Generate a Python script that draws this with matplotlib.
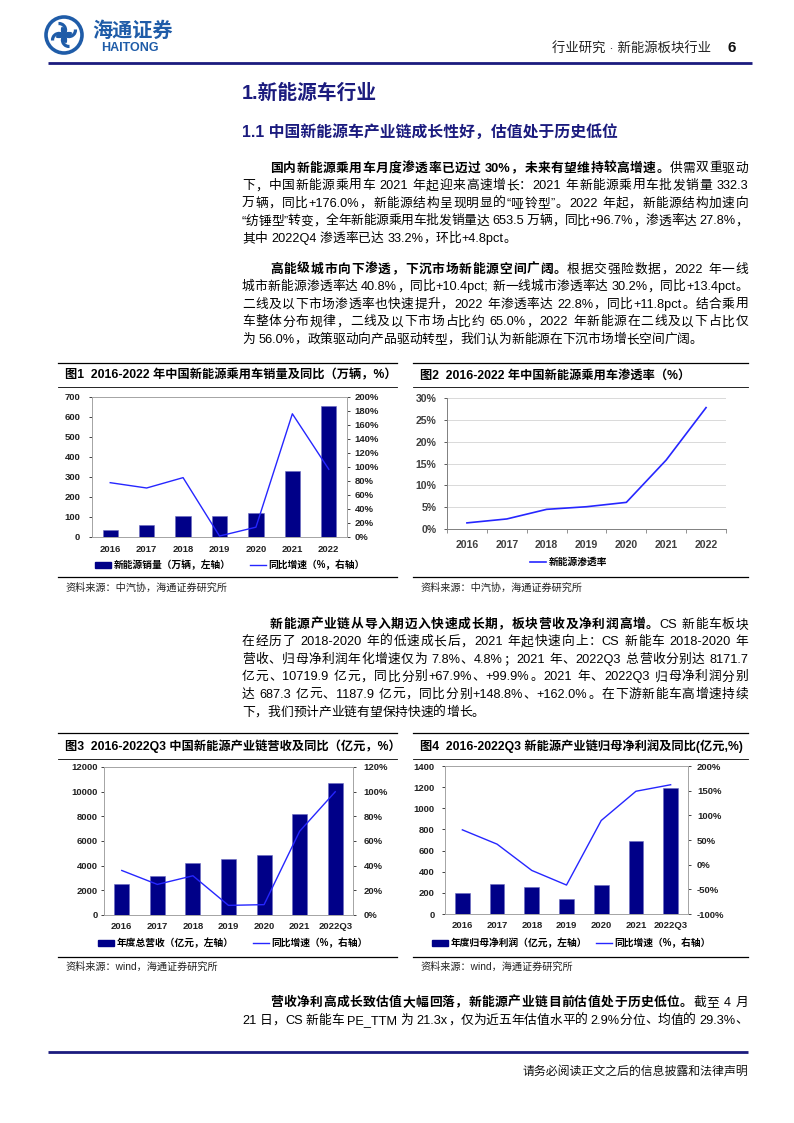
import re
import numpy as np
import matplotlib
matplotlib.use('Agg')
import matplotlib.pyplot as plt
from matplotlib.patches import Rectangle, Circle, Arc
from matplotlib.lines import Line2D

# ---------------- data ----------------
years = ['2016', '2017', '2018', '2019', '2020', '2021', '2022']
years_q3 = ['2016', '2017', '2018', '2019', '2020', '2021', '2022Q3']
nev_sales = [33, 58, 106, 106, 122, 332.3, 653.5]            # 万辆
nev_sales_yoy = [77.6, 70.0, 84.8, 1.4, 14.0, 176.0, 96.7]   # %
nev_penetration = [1.4, 2.3, 4.5, 5.1, 6.1, 15.8, 27.8]      # %
chain_revenue = [2535, 3155, 4180, 4503, 4854, 8171.7, 10719.9]  # 亿元
chain_revenue_yoy = [36.1, 24.8, 31.8, 7.8, 8.4, 67.9, 99.9]     # %
chain_profit = [198, 283, 252, 145, 277, 687.3, 1187.9]          # 亿元
chain_profit_yoy = [70.6, 41.6, -11.7, -41.3, 89.5, 148.8, 162.0]  # %

sales_ticks = list(range(0, 701, 100))
sales_yoy_ticks = list(range(0, 201, 20))
pen_ticks = list(range(0, 31, 5))
rev_ticks = list(range(0, 12001, 2000))
rev_yoy_ticks = list(range(0, 121, 20))
profit_ticks = list(range(0, 1401, 200))
profit_yoy_ticks = list(range(-100, 201, 50))

# ---------------- setup ----------------
W, H = 794, 1123
plt.rcParams['font.family'] = ['Liberation Sans', 'Noto Sans CJK SC', 'DejaVu Sans']
FAM = ['Liberation Sans', 'Noto Sans CJK SC', 'DejaVu Sans']
fig = plt.figure(figsize=(W / 100, H / 100), dpi=100)
renderer = fig.canvas.get_renderer()

NAVY = '#1b1b7e'
BAR = '#000088'
LINE = '#2626ff'
LOGO = '#1f5ca8'


def fx(x):
    return x / W


def fy(y):
    return 1 - y / H


# background axes in pixel coordinates
bg = fig.add_axes([0, 0, 1, 1])
bg.set_xlim(0, W)
bg.set_ylim(H, 0)
bg.axis('off')

# ---------------- header ----------------
cx, cy = 64, 35
bg.add_patch(Circle((cx, cy), 18, fill=False, ec=LOGO, lw=2.6))
for a in [45, 135, 225, 315]:
    r = np.deg2rad(a)
    bg.add_patch(Arc((cx + 7 * np.cos(r), cy + 7 * np.sin(r)), 13, 13,
                     theta1=a + 40, theta2=a + 250, ec=LOGO, lw=2.3))
bg.add_patch(Circle((cx, cy), 2.0, color=LOGO))
fig.text(fx(92), fy(31), '海通证券', fontsize=14.5, fontweight='bold', color=LOGO,
         family=FAM, va='center', ha='left')
fig.text(fx(101), fy(48), 'HAITONG', fontsize=9, fontweight='bold', color=LOGO,
         family=FAM, va='center', ha='left')
fig.text(fx(711), fy(49), '行业研究 · 新能源板块行业', fontsize=9.6, color='#222222',
         family=FAM, va='center', ha='right')
fig.text(fx(728), fy(48), '6', fontsize=11, fontweight='bold', color='#111111',
         family=FAM, va='center', ha='left')
bg.plot([48, 752], [63, 63], color=NAVY, lw=2.0, solid_capstyle='butt')

# headings
fig.text(fx(242), fy(93), '1.新能源车行业', fontsize=14.2, fontweight='bold', color=NAVY,
         family=FAM, va='center', ha='left')
fig.text(fx(242), fy(132), '1.1 中国新能源车产业链成长性好，估值处于历史低位', fontsize=11.4,
         fontweight='bold', color=NAVY, family=FAM, va='center', ha='left')

# ---------------- justified body text ----------------
BODY = 9.2
TOK = re.compile(r'[\x21-\x7e]+| |.')
_wc = {}


def tw(s, bold, size):
    key = (s, bold, size)
    if key not in _wc:
        t = fig.text(0, 0, s, fontsize=size, fontweight='bold' if bold else 'normal', family=FAM)
        _wc[key] = t.get_window_extent(renderer).width
        t.remove()
    return _wc[key]


SPACE_W = tw('a a', False, BODY) - tw('aa', False, BODY)


def draw_line(segs, x0, x1, y, justify=True, size=BODY):
    toks = []
    for text, bold in segs:
        for m in TOK.finditer(text):
            toks.append((m.group(0), bold))
    widths = [SPACE_W if t == ' ' else tw(t, b, size) for t, b in toks]
    gaps = len(toks) - 1
    extra = (x1 - x0 - sum(widths)) / gaps if (justify and gaps > 0) else 0.0
    x = x0
    for (t, b), w in zip(toks, widths):
        if t != ' ':
            fig.text(fx(x), fy(y + 4.6), t, fontsize=size,
                     fontweight='bold' if b else 'normal', family=FAM,
                     color='#000000', va='baseline', ha='left')
        x += w + extra


def paragraph(lines, y0, step=17.6, x0=242, x1=748, indent=28):
    for i, segs in enumerate(lines):
        last = i == len(lines) - 1
        draw_line(segs, x0 + (indent if i == 0 else 0), x1, y0 + i * step, justify=not last)


p1 = [
    [('国内新能源乘用车月度渗透率已迈过 30%，未来有望维持较高增速。', True), ('供需双重驱动', False)],
    [('下，中国新能源乘用车 2021 年起迎来高速增长：2021 年新能源乘用车批发销量 332.3', False)],
    [('万辆，同比+176.0%，新能源结构呈现明显的“哑铃型”。2022 年起，新能源结构加速向', False)],
    [('“纺锤型”转变，全年新能源乘用车批发销量达 653.5 万辆，同比+96.7%，渗透率达 27.8%，', False)],
    [('其中 2022Q4 渗透率已达 33.2%，环比+4.8pct。', False)],
]
p2 = [
    [('高能级城市向下渗透，下沉市场新能源空间广阔。', True), ('根据交强险数据，2022 年一线', False)],
    [('城市新能源渗透率达 40.8%，同比+10.4pct; 新一线城市渗透率达 30.2%，同比+13.4pct。', False)],
    [('二线及以下市场渗透率也快速提升，2022 年渗透率达 22.8%，同比+11.8pct。结合乘用', False)],
    [('车整体分布规律，二线及以下市场占比约 65.0%，2022 年新能源在二线及以下占比仅', False)],
    [('为 56.0%，政策驱动向产品驱动转型，我们认为新能源在下沉市场增长空间广阔。', False)],
]
p3 = [
    [('新能源产业链从导入期迈入快速成长期，板块营收及净利润高增。', True), ('CS 新能车板块', False)],
    [('在经历了 2018-2020 年的低速成长后，2021 年起快速向上：CS 新能车 2018-2020 年', False)],
    [('营收、归母净利润年化增速仅为 7.8%、4.8%；2021 年、2022Q3 总营收分别达 8171.7', False)],
    [('亿元、10719.9 亿元，同比分别+67.9%、+99.9%。2021 年、2022Q3 归母净利润分别', False)],
    [('达 687.3 亿元、1187.9 亿元，同比分别+148.8%、+162.0%。在下游新能车高增速持续', False)],
    [('下，我们预计产业链有望保持快速的增长。', False)],
]
p4 = [
    [('营收净利高成长致估值大幅回落，新能源产业链目前估值处于历史低位。', True), ('截至 4 月', False)],
    [('21 日，CS 新能车 PE_TTM 为 21.3x，仅为近五年估值水平的 2.9%分位、均值的 29.3%、', False)],
]
paragraph(p1, 167)
paragraph(p2, 268)
paragraph(p3, 623)
draw_line(p4[0], 270, 748, 1001, justify=True)
draw_line(p4[1], 242, 748, 1019, justify=True)

# ---------------- chart helpers ----------------
TICK_FS = 6.8


def px_axes(x0, y0, x1, y1):
    return fig.add_axes([x0 / W, 1 - y1 / H, (x1 - x0) / W, (y1 - y0) / H])


def frame(x0, x1, ytop, ytitle, ybot, title, source, ysrc):
    bg.plot([x0, x1], [ytop, ytop], color='#000000', lw=0.9)
    bg.plot([x0, x1], [ytitle, ytitle], color='#000000', lw=0.6)
    bg.plot([x0, x1], [ybot, ybot], color='#000000', lw=0.9)
    fig.text(fx(x0 + 7), fy((ytop + ytitle) / 2 + 0.5), title, fontsize=8.8, fontweight='bold',
             family=FAM, va='center', ha='left', color='#000000')
    fig.text(fx(x0 + 7), fy(ysrc), source, fontsize=7.3, family=FAM, va='center', ha='left',
             color='#222222')


def style_axes(ax, spine_color='#a6a6a6', fs=TICK_FS):
    for s in ax.spines.values():
        s.set_color(spine_color)
        s.set_linewidth(0.7)
    ax.tick_params(colors='#222222', labelsize=fs, width=0.6, length=2.5)
    ax.tick_params(axis='x', length=0)


def legend2(ax, handles, labels, x, y, colsp):
    leg = fig.legend(handles, labels, loc='center left', bbox_to_anchor=(fx(x), fy(y)),
                     ncol=len(handles), frameon=False, borderpad=0, borderaxespad=0,
                     handlelength=1.65, handleheight=0.65, handletextpad=0.25,
                     columnspacing=colsp, prop={'family': FAM, 'size': 7.0, 'weight': 'bold'})
    return leg


def pct(ticks):
    return ['%d%%' % t for t in ticks]


xi = np.arange(7)

# ---------------- chart 1 ----------------
frame(58, 397, 363, 387, 577, '图1  2016-2022 年中国新能源乘用车销量及同比（万辆，%）',
      '资料来源：中汽协，海通证券研究所', 588)
ax1 = px_axes(92, 397, 347, 537)
ax1.bar(xi, nev_sales, width=0.42, color=BAR, edgecolor='#6b6bc0', linewidth=0.4, zorder=2)
ax1.set_xlim(-0.5, 6.5)
ax1.set_ylim(0, 700)
ax1.set_yticks(sales_ticks, labels=[str(t) for t in sales_ticks], fontweight='bold')
ax1.set_xticks(xi, labels=years, fontweight='bold')
style_axes(ax1)
ax1.tick_params(axis='y', pad=6)
ax1.tick_params(axis='x', pad=6)
ax1b = ax1.twinx()
ax1b.plot(xi, nev_sales_yoy, color=LINE, lw=1.0, zorder=3)
ax1b.set_ylim(0, 200)
ax1b.set_yticks(sales_yoy_ticks, labels=pct(sales_yoy_ticks), fontweight='bold')
style_axes(ax1b)
ax1b.tick_params(axis='y', pad=3)
legend2(ax1, [Rectangle((0, 0), 1, 1, fc=BAR, ec=BAR), Line2D([], [], color=LINE, lw=1.0)],
        ['新能源销量（万辆，左轴）', '同比增速（%，右轴）'], 95, 565, 2.0)

# ---------------- chart 2 ----------------
frame(413, 748, 363, 387, 577, '图2  2016-2022 年中国新能源乘用车渗透率（%）',
      '资料来源：中汽协，海通证券研究所', 588)
ax2 = px_axes(447, 398, 726, 529)
ax2.plot(xi, nev_penetration, color=LINE, lw=1.2, zorder=3)
ax2.set_xlim(-0.5, 6.5)
ax2.set_ylim(0, 30)
ax2.set_yticks(pen_ticks, labels=pct(pen_ticks), fontweight='bold')
ax2.set_xticks(xi, labels=years, fontweight='bold')
ax2.set_xticks(np.arange(-0.5, 7, 1), minor=True)
ax2.grid(axis='y', color='#d9d9d9', lw=0.7, zorder=0)
ax2.set_axisbelow(True)
style_axes(ax2, '#808080', fs=7.6)
ax2.spines['top'].set_visible(False)
ax2.spines['right'].set_visible(False)
ax2.tick_params(axis='y', length=2.5, pad=5, colors='#404040')
ax2.tick_params(axis='x', which='major', length=0, pad=8, colors='#404040')
ax2.tick_params(axis='x', which='minor', length=3, width=0.6, color='#808080')
legend2(ax2, [Line2D([], [], color=LINE, lw=1.2)], ['新能源渗透率'], 530, 562, 1.0)

# ---------------- chart 3 ----------------
frame(58, 397, 733, 759, 957, '图3  2016-2022Q3 中国新能源产业链营收及同比（亿元，%）',
      '资料来源：wind，海通证券研究所', 967)
ax3 = px_axes(104, 767, 353, 915)
ax3.bar(xi, chain_revenue, width=0.42, color=BAR, edgecolor='#6b6bc0', linewidth=0.4, zorder=2)
ax3.set_xlim(-0.5, 6.5)
ax3.set_ylim(0, 12000)
ax3.set_yticks(rev_ticks, labels=[str(t) for t in rev_ticks], fontweight='bold')
ax3.set_xticks(xi, labels=years_q3, fontweight='bold')
style_axes(ax3)
ax3.tick_params(axis='y', pad=2)
ax3.tick_params(axis='x', pad=5)
ax3b = ax3.twinx()
ax3b.plot(xi, chain_revenue_yoy, color=LINE, lw=1.0, zorder=3)
ax3b.set_ylim(0, 120)
ax3b.set_yticks(rev_yoy_ticks, labels=pct(rev_yoy_ticks), fontweight='bold')
style_axes(ax3b)
ax3b.tick_params(axis='y', pad=5)
legend2(ax3, [Rectangle((0, 0), 1, 1, fc=BAR, ec=BAR), Line2D([], [], color=LINE, lw=1.0)],
        ['年度总营收（亿元，左轴）', '同比增速（%，右轴）'], 98, 943, 2.0)

# ---------------- chart 4 ----------------
frame(413, 748, 733, 759, 957, '图4  2016-2022Q3 新能源产业链归母净利润及同比(亿元,%)',
      '资料来源：wind，海通证券研究所', 967)
ax4 = px_axes(445, 766, 688, 914)
ax4.bar(xi, chain_profit, width=0.42, color=BAR, edgecolor='#6b6bc0', linewidth=0.4, zorder=2)
ax4.set_xlim(-0.5, 6.5)
ax4.set_ylim(0, 1400)
ax4.set_yticks(profit_ticks, labels=[str(t) for t in profit_ticks], fontweight='bold')
ax4.set_xticks(xi, labels=years_q3, fontweight='bold')
style_axes(ax4)
ax4.tick_params(axis='y', pad=5)
ax4.tick_params(axis='x', pad=5)
ax4b = ax4.twinx()
ax4b.plot(xi, chain_profit_yoy, color=LINE, lw=1.0, zorder=3)
ax4b.set_ylim(-100, 200)
ax4b.set_yticks(profit_yoy_ticks, labels=pct(profit_yoy_ticks), fontweight='bold')
style_axes(ax4b)
ax4b.tick_params(axis='y', pad=4)
legend2(ax4, [Rectangle((0, 0), 1, 1, fc=BAR, ec=BAR), Line2D([], [], color=LINE, lw=1.0)],
        ['年度归母净利润（亿元，左轴）', '同比增速（%，右轴）'], 432, 943, 0.9)

# ---------------- footer ----------------
bg.plot([48, 748], [1052, 1052], color=NAVY, lw=2.0, solid_capstyle='butt')
fig.text(fx(748), fy(1072), '请务必阅读正文之后的信息披露和法律声明', fontsize=8.6,
         family=FAM, va='center', ha='right', color='#111111')

fig.savefig('out.png', dpi=100)
